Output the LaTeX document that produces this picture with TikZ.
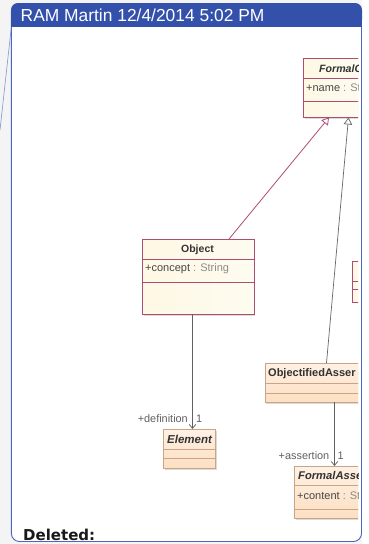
\documentclass[tikz,border=0pt]{standalone}
\usepackage{fontspec}
\setmainfont{Liberation Sans}
\newfontfamily\delfont{DejaVu Sans}
\usetikzlibrary{arrows.meta}
\definecolor{hdr}{HTML}{3350AB}
\definecolor{frm}{HTML}{4A66BE}
\definecolor{umlred}{HTML}{AE4D72}
\definecolor{ctan}{HTML}{FDDFC2}
\definecolor{lntan}{HTML}{C9A585}
\definecolor{cream}{HTML}{FEF8E4}
\definecolor{page}{HTML}{F4F4F4}
\tikzset{
  x=1pt,y=-1pt,
  creambox/.style={draw=umlred,line width=.9pt,left color=cream,right color=cream!55!white},
  tanbox/.style={draw=lntan,line width=.9pt,top color=ctan!45!white,bottom color=ctan},
  sepred/.style={draw=umlred,line width=.75pt},
  septan/.style={draw=lntan,line width=.75pt},
  shade1/.style={fill=black!14,draw=none},
  boldlbl/.style={font=\bfseries\fontsize{10.5}{12}\selectfont,text=black!80,inner sep=0pt},
  itlbl/.style={font=\bfseries\itshape\fontsize{10.6}{12}\selectfont,text=black!80,inner sep=0pt},
  attr/.style={font=\fontsize{11}{13}\selectfont,text=black!45,inner sep=0pt,anchor=west},
  rolelbl/.style={font=\fontsize{10.9}{13}\selectfont,text=black!62,inner sep=0pt},
  gen/.style={-{Triangle[open,length=7pt,width=8.5pt,fill=white]}},
  assoc/.style={-{Straight Barb[length=4pt,width=6.5pt]},draw=black!62,line width=.7pt},
}
\begin{document}
\begin{tikzpicture}
\useasboundingbox (0,0) rectangle (368,544);
\fill[page] (0,0) rectangle (362,544);
\fill[white] (362,0) rectangle (368,544);
% panel
\coordinate (lead) at (0,130);
\coordinate (leadend) at (11,30);
\draw[frm!70!white,line width=.6pt] (lead) -- (leadend);
\draw[frm,line width=.9pt,fill=white,rounded corners=8pt] (11.4,3.5) rectangle (361.5,541.5);
\fill[hdr,rounded corners=7pt] (11,26.5) -- (11,3) -- (362,3) -- (362,26.5) [sharp corners] -- cycle;
\fill[hdr] (11,18) rectangle (362,26.5);
\node[anchor=west,inner sep=0pt,text=white,font=\fontsize{17.4}{20}\selectfont] (title) at (20.5,15) {RAM Martin 12/4/2014 5:02 PM};
\begin{scope}
\clip (11,27) rectangle (358,541);
% boxes
\fill[shade1] (305,60) rectangle (360,119);
\node[creambox,minimum width=60pt,minimum height=59pt,inner sep=0pt,anchor=north west] (fc) at (303,58) {};
\draw[sepred] (303,78) -- (363,78); \draw[sepred] (303,101) -- (363,101);
\node[itlbl,anchor=west] (fct) at (319,68.5) {FormalC};
\node[attr] (fca) at (306,87.5) {\textcolor{black!72}{+name} : St};

\fill[shade1] (144,241) rectangle (255,316);
\node[creambox,minimum width=111.5pt,minimum height=75pt,inner sep=0pt,anchor=north west] (obj) at (142,239) {};
\draw[sepred] (142,259) -- (253.5,259); \draw[sepred] (142,282) -- (253.5,282);
\node[boldlbl] (objt) at (197.5,249.5) {Object};
\node[attr] (obja) at (145,268.5) {\textcolor{black!72}{+concept} : String};

\node[creambox,minimum width=20pt,minimum height=41pt,inner sep=0pt,anchor=north west] (small) at (351.5,261) {};
\draw[sepred] (351.5,281) -- (372,281); \draw[sepred] (351.5,289) -- (372,289);

\fill[shade1] (266,365) rectangle (360,404);
\node[tanbox,minimum width=100pt,minimum height=39pt,inner sep=0pt,anchor=north west] (oa) at (265,363) {};
\draw[septan] (265,383) -- (365,383); \draw[septan] (265,393) -- (365,393);
\node[boldlbl,anchor=west,font=\bfseries\fontsize{11}{13}\selectfont] (oat) at (268,373.5) {ObjectifiedAsser};

\fill[shade1] (165,431) rectangle (217,470);
\node[tanbox,minimum width=52pt,minimum height=39pt,inner sep=0pt,anchor=north west] (el) at (163,429) {};
\draw[septan] (163,449) -- (215,449); \draw[septan] (163,458) -- (215,458);
\node[itlbl,font=\bfseries\itshape\fontsize{11.5}{13}\selectfont] (elt) at (189.5,439.5) {Element};

\fill[shade1] (296,468) rectangle (360,520);
\node[tanbox,minimum width=70pt,minimum height=52pt,inner sep=0pt,anchor=north west] (fa) at (294,466) {};
\draw[septan] (294,485.5) -- (364,485.5); \draw[septan] (294,509) -- (364,509);
\node[itlbl,anchor=west,font=\bfseries\itshape\fontsize{11.2}{13}\selectfont] (fat) at (298,475.5) {FormalAsse};
\node[attr] (faa) at (297,495.5) {\textcolor{black!72}{+content} : St};
% connectors
\coordinate (g1s) at (229,239);
\coordinate (g1e) at (329,117.5);
\draw[gen,draw=umlred,line width=.8pt] (g1s) -- (g1e);
\coordinate (g2s) at (326.5,363);
\coordinate (g2e) at (348.5,117.5);
\draw[gen,draw=black!60,line width=.7pt] (g2s) -- (g2e);
\coordinate (a1s) at (192.5,314);
\coordinate (a1e) at (192.5,429);
\draw[assoc] (a1s) -- (a1e);
\coordinate (a2s) at (334.5,402);
\coordinate (a2e) at (334.5,466);
\draw[assoc] (a2s) -- (a2e);
\end{scope}
\node[rolelbl,anchor=east] (r1) at (188,419) {+definition};
\node[rolelbl,anchor=west] (m1) at (196,419) {1};
\node[rolelbl,anchor=east] (r2) at (329.5,456) {+assertion};
\node[rolelbl,anchor=west] (m2) at (337.5,456) {1};
\node[anchor=base west,inner sep=0pt,font=\delfont\bfseries\fontsize{15}{18}\selectfont,text=black!90] (del) at (23,540) {Deleted:};
\end{tikzpicture}
\end{document}
